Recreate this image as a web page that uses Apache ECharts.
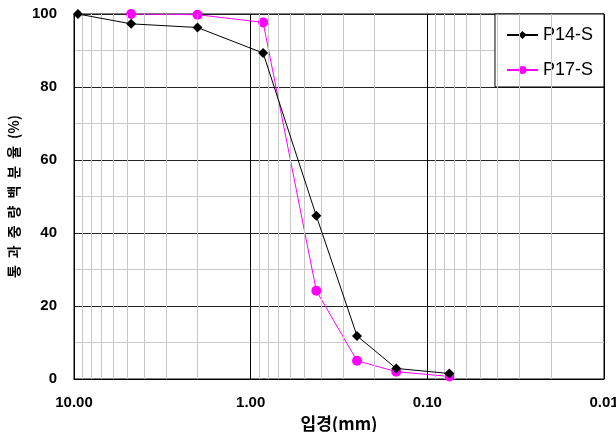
<!DOCTYPE html>
<html>
<head>
<meta charset="utf-8">
<script src="https://cdn.jsdelivr.net/npm/echarts@6/dist/echarts.min.js"></script>
<style>html,body{margin:0;padding:0;background:#fff}#c{width:616px;height:432px}</style>
</head>
<body>
<div id="c"></div>
<script>
// grain size (mm)
var sizes = [9.5, 4.75, 2.0, 0.85, 0.425, 0.25, 0.15, 0.075];
var p14 = [100, 97.3, 96.3, 89.3, 44.7, 11.8, 2.9, 1.5];
var sizes17 = [4.75, 2.0, 0.85, 0.425, 0.25, 0.15, 0.075];
var p17 = [100, 99.8, 97.7, 24.2, 5.0, 2.0, 0.7];
var xTickLabels = ['10.00', '1.00', '0.10', '0.01'];
var minorX = [0.02,0.03,0.04,0.05,0.06,0.07,0.08,0.09,0.2,0.3,0.4,0.5,0.6,0.7,0.8,0.9,2,3,4,5,6,7,8,9];
var seriesNames = ['P14-S', 'P17-S'];

var fontTxt = "'Liberation Sans','Noto Sans CJK KR',sans-serif";
var fontKr = "'Noto Sans CJK KR',sans-serif";

var chart = echarts.init(document.getElementById('c'));
chart.setOption({
  animation: false,
  backgroundColor: '#fff',
  grid: {left: 74, right: 12, top: 14, bottom: 53, outerBoundsMode: 'none', containLabel: false,
    show: true, borderColor: '#000', borderWidth: 1, backgroundColor: 'transparent'},
  legend: {
    data: seriesNames, orient: 'vertical', right: 12, top: 14,
    backgroundColor: '#fff', borderColor: '#000', borderWidth: 1,
    padding: [12, 11, 8, 11], itemGap: 17, itemWidth: 31, itemHeight: 10,
    textStyle: {fontSize: 18, color: '#000', fontFamily: fontTxt}
  },
  xAxis: {
    type: 'log', logBase: 10, min: 0.01, max: 10, inverse: true,
    name: '입경(mm)', nameLocation: 'middle', nameGap: 27,
    nameTextStyle: {fontSize: 17, fontWeight: 'bold', color: '#000', fontFamily: fontKr},
    axisLine: {lineStyle: {color: '#000'}},
    axisTick: {show: false},
    axisLabel: {fontSize: 15, fontWeight: 'bold', color: '#000', margin: 16, fontFamily: fontTxt,
      formatter: function (v) {
        var s = Number(v).toFixed(2);
        return xTickLabels.indexOf(s) >= 0 ? s : '';
      }},
    splitLine: {show: true, lineStyle: {color: '#000', width: 1}}
  },
  yAxis: {
    type: 'value', min: 0, max: 100, interval: 20,
    name: '통\u2002과\u2002중\u2002량\u2002백\u2002분\u2002율\u2002(%)', nameLocation: 'middle', nameGap: 50,
    nameTextStyle: {fontSize: 14, fontWeight: 'bold', color: '#000', fontFamily: fontKr},
    axisLine: {show: true, lineStyle: {color: '#000'}},
    axisTick: {show: false},
    axisLabel: {fontSize: 15, fontWeight: 'bold', color: '#000', margin: 17, fontFamily: fontTxt},
    splitLine: {show: true, lineStyle: {color: '#222', width: 1}},
    minorTick: {show: false, splitNumber: 2},
    minorSplitLine: {show: true, lineStyle: {color: '#c8c8c8', width: 1}}
  },
  series: [
    {
      name: 'minor', type: 'line', data: [], z: 1, silent: true,
      markLine: {
        silent: true, symbol: ['none', 'none'], label: {show: false},
        lineStyle: {color: '#c8c8c8', type: 'solid', width: 1},
        data: minorX.map(function (v) { return {xAxis: v}; })
      }
    },
    {
      name: seriesNames[0], type: 'line', z: 5,
      data: sizes.map(function (s, i) { return [s, p14[i]]; }),
      symbol: 'diamond', symbolSize: 10,
      lineStyle: {color: '#000', width: 1},
      itemStyle: {color: '#000'}
    },
    {
      name: seriesNames[1], type: 'line', z: 4,
      data: sizes17.map(function (s, i) { return [s, p17[i]]; }),
      symbol: 'circle', symbolSize: 10,
      lineStyle: {color: '#ff00ff', width: 1},
      itemStyle: {color: '#ff00ff'}
    }
  ]
});
</script>
</body>
</html>
